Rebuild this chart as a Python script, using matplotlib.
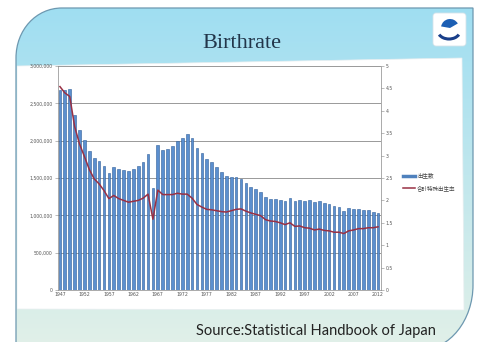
import numpy as np
import matplotlib.pyplot as plt
from matplotlib.patches import Polygon, PathPatch, FancyBboxPatch, Wedge, Arc
from matplotlib.path import Path
from matplotlib.lines import Line2D

years = list(range(1947, 2013))
births = [2679, 2682, 2697, 2338, 2138, 2005, 1868, 1770, 1731, 1665,
          1567, 1653, 1626, 1606, 1589, 1619, 1660, 1717, 1824, 1361,
          1936, 1872, 1890, 1934, 2001, 2039, 2092, 2030, 1901, 1833,
          1755, 1709, 1643, 1577, 1529, 1515, 1509, 1490, 1432, 1383,
          1347, 1314, 1247, 1222, 1223, 1209, 1188, 1238, 1187, 1207,
          1192, 1203, 1178, 1191, 1171, 1154, 1124, 1111, 1063, 1093,
          1090, 1091, 1070, 1071, 1051, 1037]
tfr = [4.54, 4.40, 4.32, 3.65, 3.26, 2.98, 2.69, 2.48, 2.37, 2.22,
       2.04, 2.11, 2.04, 2.00, 1.96, 1.98, 2.00, 2.05, 2.14, 1.58,
       2.23, 2.13, 2.13, 2.13, 2.16, 2.14, 2.14, 2.05, 1.91, 1.85,
       1.80, 1.79, 1.77, 1.75, 1.74, 1.77, 1.80, 1.81, 1.76, 1.72,
       1.69, 1.66, 1.57, 1.54, 1.53, 1.50, 1.46, 1.50, 1.42, 1.43,
       1.39, 1.38, 1.34, 1.36, 1.33, 1.32, 1.29, 1.29, 1.26, 1.32,
       1.34, 1.37, 1.37, 1.39, 1.39, 1.41]
left_ticks = [0, 500000, 1000000, 1500000, 2000000, 2500000, 3000000]
right_ticks = [0, 0.5, 1, 1.5, 2, 2.5, 3, 3.5, 4, 4.5, 5]
title = 'Birthrate'
source = 'Source:Statistical Handbook of Japan'
legend_labels = ['出生数', '合計特殊出生率']

W, H = 482, 342
fig = plt.figure(figsize=(W / 100, H / 100), dpi=100)

# slide background in pixel coordinates
bg = fig.add_axes([0, 0, 1, 1])
bg.set_xlim(0, W)
bg.set_ylim(H, 0)
bg.axis('off')

verts = [(16, 350), (16, 58), (16, 30), (36, 8), (62, 8), (473, 8),
         (473, 285), (473, 320), (450, 350), (420, 350), (16, 350)]
codes = [Path.MOVETO, Path.LINETO, Path.CURVE4, Path.CURVE4, Path.CURVE4,
         Path.LINETO, Path.LINETO, Path.CURVE4, Path.CURVE4, Path.CURVE4,
         Path.CLOSEPOLY]
shape = PathPatch(Path(verts, codes), facecolor='none', edgecolor='#6d98b0', lw=0.9, zorder=3)
bg.add_patch(shape)
grad = np.linspace(0, 1, 256).reshape(-1, 1)
top = np.array([0.62, 0.87, 0.95])
bot = np.array([0.88, 0.94, 0.91])
img = top + (bot - top) * grad[..., None]
im = bg.imshow(img, extent=(0, W, H, 0), aspect='auto', zorder=1)
im.set_clip_path(shape)

bg.add_patch(Polygon([(17, 66), (462, 58), (464, 310), (17, 309)],
                     closed=True, facecolor='white', edgecolor='#e8eef0', lw=0.5, zorder=2))

# logo
bg.add_patch(FancyBboxPatch((433, 13), 33, 33, boxstyle='round,pad=0,rounding_size=3',
                            facecolor='white', edgecolor='#d5e3ea', lw=0.6, zorder=4))
bg.add_patch(Wedge((450, 28), 9, 190, 330, facecolor='#1c5fb4', edgecolor='none', zorder=5))
bg.add_patch(Arc((449, 31), 22, 16, theta1=20, theta2=160, color='#1a3f8a', lw=2.2, zorder=5))

bg.text(242, 43, title, ha='center', va='center', fontsize=16,
        family='Liberation Serif', color='#22364a', zorder=5)
bg.text(316, 331, source, ha='center', va='center', fontsize=10.5,
        family='Lato', color='#222222', zorder=5)

# chart
ax = fig.add_axes([57.5 / W, 1 - 290 / H, 323 / W, 224 / H])
ax.set_zorder(5)
x = np.arange(len(years))
ax.bar(x, [b * 1000 for b in births], width=0.55, color='#5b8fcf',
       edgecolor='#2f5f9a', lw=0.4, zorder=2)
ax.set_xlim(-0.5, len(years) - 0.5)
ax.set_ylim(0, 3000000)
ax.set_yticks(left_ticks)
ax.set_yticklabels([f'{v:,}' for v in left_ticks])
ax.set_xticks(x[::5])
ax.set_xticklabels([str(y) for y in years[::5]])
ax.grid(axis='y', color='#7f7f7f', lw=0.55, zorder=0)
ax.set_facecolor('none')
for s in ['top', 'right']:
    ax.spines[s].set_visible(False)
ax.spines['left'].set_color('#888888')
ax.spines['bottom'].set_color('#888888')
ax.spines['left'].set_linewidth(0.5)
ax.spines['bottom'].set_linewidth(0.5)
ax.tick_params(labelsize=3.3, length=2, width=0.4, colors='#888888', labelcolor='#555555', pad=1.5)
ax.tick_params(axis='x', length=0)

ax2 = ax.twinx()
ax2.plot(x, tfr, color='#993044', lw=1.1, zorder=3)
ax2.set_ylim(0, 5)
ax2.set_yticks(right_ticks)
ax2.set_yticklabels([f'{v:g}' for v in right_ticks])
for s in ['top', 'left', 'bottom']:
    ax2.spines[s].set_visible(False)
ax2.spines['right'].set_color('#888888')
ax2.spines['right'].set_linewidth(0.5)
ax2.tick_params(labelsize=3.3, length=2, width=0.4, colors='#888888', labelcolor='#555555', pad=1.5)

handles = [Line2D([], [], color='#4f81bd', lw=2.5), Line2D([], [], color='#993044', lw=1.1)]
fig.legend(handles, legend_labels, loc='upper left', bbox_to_anchor=(398 / W, 1 - 168 / H),
           frameon=False, handlelength=2.2, handletextpad=0.3, labelspacing=1.2,
           prop={'family': ['Noto Sans CJK JP', 'DejaVu Sans'], 'size': 4}, labelcolor='#444444')

fig.savefig('out.png', dpi=100)
